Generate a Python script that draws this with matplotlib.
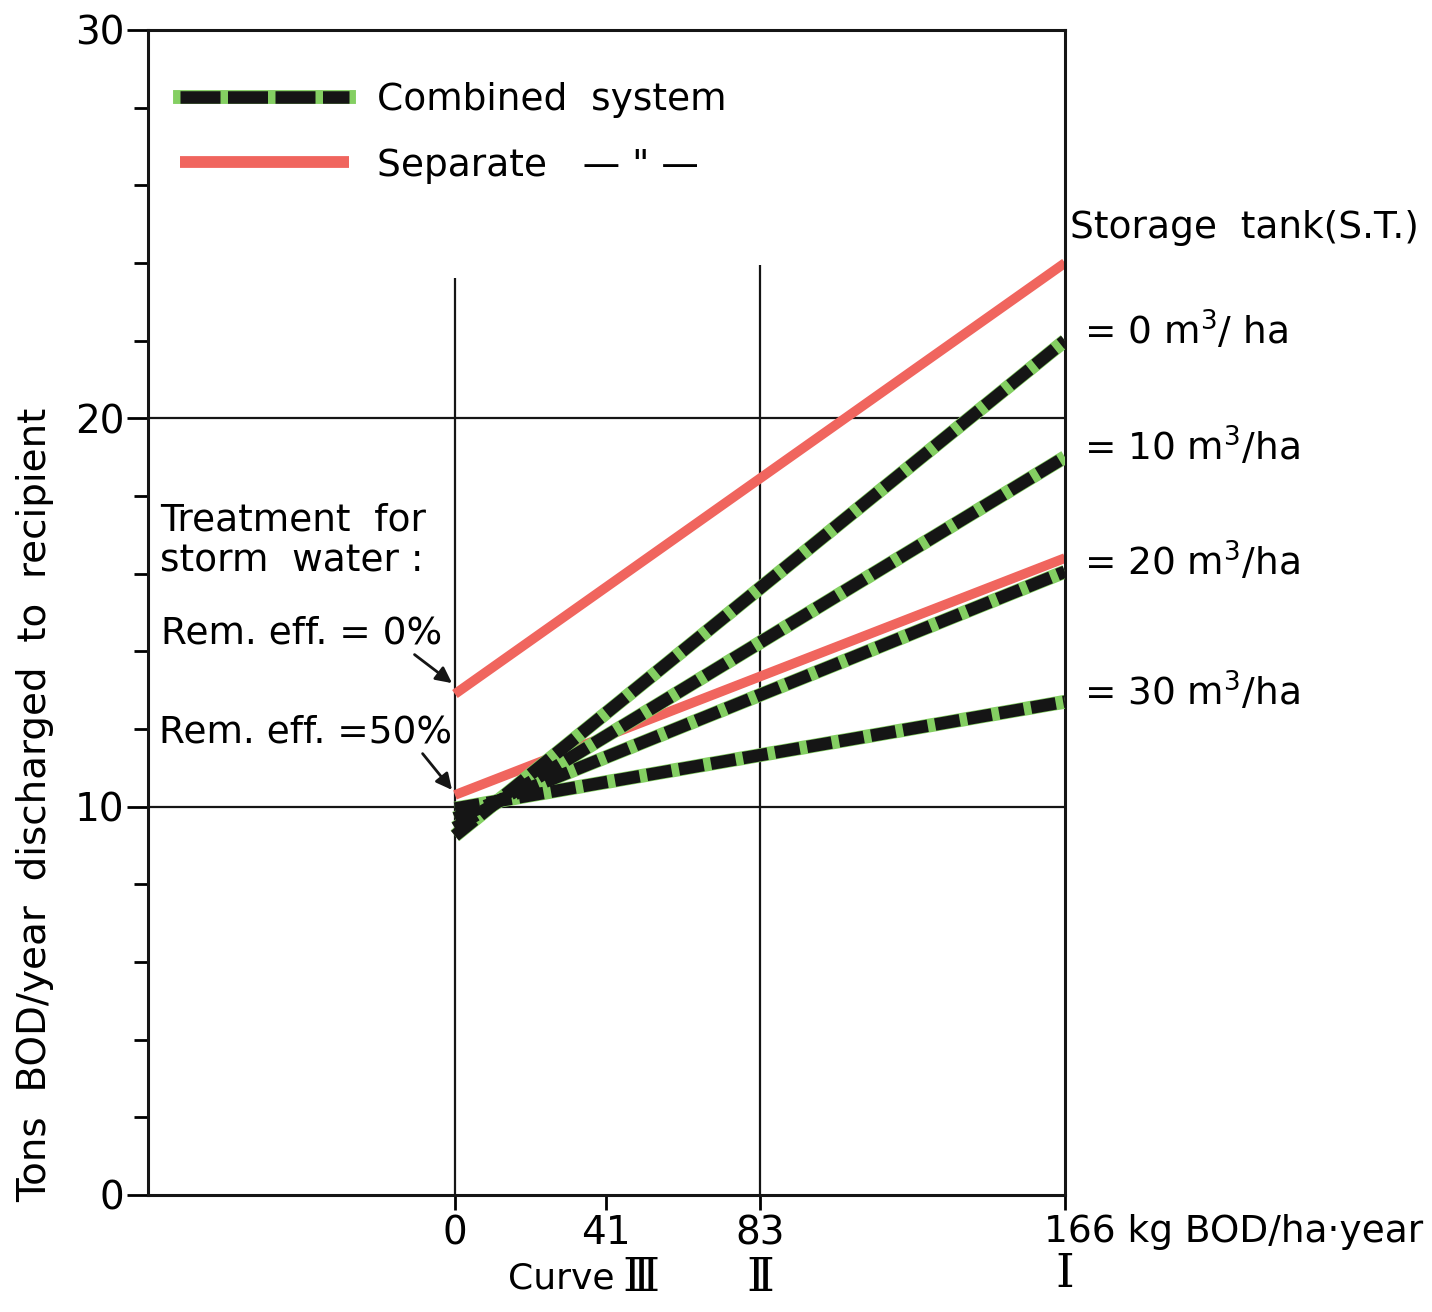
import matplotlib
matplotlib.use('Agg')
import matplotlib.pyplot as plt
from matplotlib.lines import Line2D
from matplotlib.legend_handler import HandlerTuple

# -------------------------------------------------------
# DATOS
# -------------------------------------------------------
x_ends = [0, 166]

# separate system, treatment for storm water
separate_labels = ['Rem. eff. = 0%', 'Rem. eff. =50%']
separate_start = [12.9, 10.3]
separate_end = [24.0, 16.4]

# combined system, storage tank volume
storage_labels = ['= 0 m$^3$/ ha', '= 10 m$^3$/ha', '= 20 m$^3$/ha', '= 30 m$^3$/ha']
combined_start = [9.25, 9.45, 9.7, 9.95]
combined_end = [22.0, 19.0, 16.05, 12.7]

x_ticks = [0, 41, 83, 166]
x_tick_labels = ['0', '41', '83', '']
y_major = [0, 10, 20, 30]
y_minor = [2, 4, 6, 8, 12, 14, 16, 18, 22, 24, 26, 28]
h_lines = [10, 20]
v_lines = [0, 83]
v_tops = [23.6, 23.95]

# -------------------------------------------------------
# ESTILO
# -------------------------------------------------------
RED = '#f0655e'
GREEN = '#84cf62'
BLACK = '#151515'
FS = 27

plt.rcParams['font.family'] = ['DejaVu Sans']
plt.rcParams['mathtext.fontset'] = 'dejavusans'


def plot_chart():
    fig = plt.figure(figsize=(14.32, 13.12), dpi=100)
    ax = fig.add_axes([0.1034, 0.0892, 0.6403, 0.8880])
    ax.set_xlim(-83.5, 166)
    ax.set_ylim(0, 30)

    for s in ax.spines.values():
        s.set_linewidth(2.2)
        s.set_color(BLACK)

    # lineas de referencia
    for h in h_lines:
        ax.axhline(h, color=BLACK, lw=1.6, zorder=1)
    ax.vlines(v_lines, 0, v_tops, color=BLACK, lw=1.6, zorder=1)

    # separate system
    for y0, y1 in zip(separate_start, separate_end):
        ax.plot(x_ends, [y0, y1], color=RED, lw=7, solid_capstyle='butt', zorder=2)

    # combined system: verde debajo, negro discontinuo encima
    for y0, y1 in zip(combined_start, combined_end):
        ax.plot(x_ends, [y0, y1], color=GREEN, lw=10, solid_capstyle='butt', zorder=3)
        ax.plot(x_ends, [y0, y1], color=BLACK, lw=9, dashes=(2.0, 0.6),
                dash_capstyle='butt', zorder=4)

    # ejes
    ax.set_xticks(x_ticks)
    ax.set_xticklabels(x_tick_labels, fontsize=28)
    ax.set_yticks(y_major)
    ax.set_yticklabels([str(v) for v in y_major], fontsize=28)
    ax.set_yticks(y_minor, minor=True)
    ax.tick_params(axis='y', which='major', direction='out', length=15, width=2, pad=2)
    ax.tick_params(axis='y', which='minor', direction='out', length=10, width=2)
    ax.tick_params(axis='x', which='major', direction='out', length=11, width=2, pad=3)
    ax.set_ylabel('Tons  BOD/year  discharged  to  recipient', fontsize=28)
    ax.yaxis.set_label_coords(-0.103, 0.335)

    ax.annotate('166 kg BOD/ha\u00b7year', xy=(166, 0), xycoords='data',
                xytext=(-15, -14), textcoords='offset points',
                ha='left', va='top', fontsize=27, annotation_clip=False)
    ax.text(43.5, -2.15, 'Curve', ha='right', va='center', fontsize=26)
    ax.text(50.5, -2.15, '\u2162', ha='center', va='center', fontsize=34,
            family=['DejaVu Serif', 'DejaVu Sans'])
    ax.text(83, -2.15, '\u2161', ha='center', va='center', fontsize=34,
            family=['DejaVu Serif', 'DejaVu Sans'])
    ax.text(166, -2.05, '\u2160', ha='center', va='center', fontsize=34,
            family=['DejaVu Serif', 'DejaVu Sans'])

    # leyenda
    comb_handle = (Line2D([], [], color=GREEN, lw=10),
                   Line2D([], [], color=BLACK, lw=9, dashes=(3.2, 0.6), dash_capstyle='butt'))
    sep_handle = Line2D([], [], color=RED, lw=8.5, solid_capstyle='butt')
    ax.legend([comb_handle, sep_handle], ['Combined  system', 'Separate   \u2014 " \u2014'],
              handler_map={tuple: HandlerTuple(ndivide=1, pad=0)},
              loc='upper left', bbox_to_anchor=(0.035, 0.955), frameon=False,
              fontsize=FS, handlelength=4.5, handletextpad=0.75, labelspacing=0.78,
              borderpad=0, borderaxespad=0)

    # textos izquierda
    ax.text(-80.3, 16.85, 'Treatment  for\nstorm  water :', ha='left', va='center',
            fontsize=FS, linespacing=1.18)
    tips = [(-0.8, 13.18), (-0.8, 10.43)]
    text_pos = [(-80.1, 14.45), (-80.4, 11.9)]
    for lab, tip, tp in zip(separate_labels, tips, text_pos):
        ax.annotate(lab, xy=tip, xytext=tp, ha='left', va='center', fontsize=FS,
                    arrowprops=dict(arrowstyle='-|>', color=BLACK, lw=2,
                                    mutation_scale=24, relpos=(0.89, 0),
                                    shrinkA=0, shrinkB=0))

    # textos derecha
    ax.text(167.3, 24.9, 'Storage  tank(S.T.)', ha='left', va='center', fontsize=FS,
            clip_on=False)
    for lab, y1 in zip(storage_labels, combined_end):
        ax.annotate(lab, xy=(166, y1), xytext=(14, 7), textcoords='offset points',
                    ha='left', va='center', fontsize=FS, annotation_clip=False)

    fig.savefig('out.png', dpi=100, facecolor='white')


# -------------------------------------------------------
if __name__ == '__main__':
    plot_chart()
